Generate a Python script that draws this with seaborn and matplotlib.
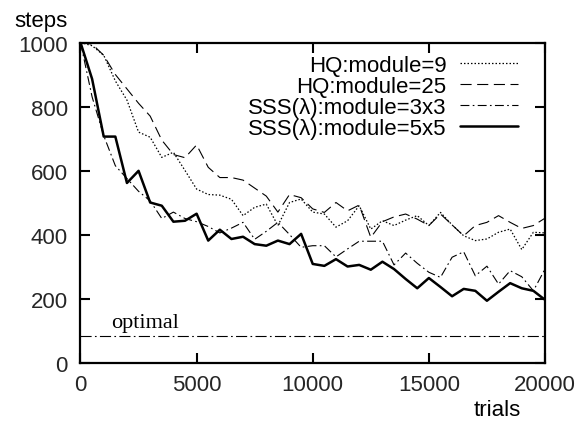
import numpy as np
import pandas as pd
import matplotlib
matplotlib.use("Agg")
import matplotlib.pyplot as plt
import seaborn as sns

# trials sampled every 500
trials = np.arange(0, 20001, 500)

hq_module9 = [1000, 990, 960, 880, 820, 720, 704, 641, 657, 600,
              542, 525, 523, 510, 459, 485, 495, 428, 500, 511,
              470, 464, 423, 443, 490, 417, 443, 428, 445, 459,
              428, 469, 430, 396, 381, 386, 407, 417, 353, 407, 405]
hq_module25 = [1000, 995, 960, 900, 855, 810, 770, 695, 650, 640,
               680, 610, 578, 578, 570, 545, 520, 470, 525, 515,
               480, 469, 500, 474, 492, 391, 440, 455, 464, 448,
               428, 464, 430, 396, 428, 438, 459, 438, 419, 428, 451]
sss_3x3 = [1000, 830, 709, 615, 575, 535, 505, 450, 470, 450,
           440, 425, 405, 420, 438, 385, 410, 438, 400, 360,
           365, 365, 330, 355, 379, 379, 379, 305, 342, 310,
           282, 266, 329, 346, 271, 301, 245, 287, 268, 224, 292]
sss_5x5 = [1000, 886, 706, 706, 561, 599, 500, 490, 440, 443,
           465, 381, 415, 386, 393, 370, 365, 381, 370, 402,
           308, 302, 323, 300, 305, 290, 315, 292, 261, 232,
           264, 236, 207, 230, 224, 193, 221, 248, 232, 224, 196]
optimal = 82

xticks = [0, 5000, 10000, 15000, 20000]
yticks = [0, 200, 400, 600, 800, 1000]
labels = ["HQ:module=9", "HQ:module=25",
          "SSS(\u03bb):module=3x3", "SSS(\u03bb):module=5x5"]

sns.set_style("ticks", rc={
    "axes.edgecolor": "black",
    "axes.axisbelow": False,
    "text.color": "black",
    "xtick.direction": "in",
    "ytick.direction": "in",
})
plt.rcParams['font.family'] = ['Liberation Sans', 'DejaVu Sans']

fig = plt.figure(figsize=(5.85, 4.27), dpi=100)
ax = fig.add_axes([0.1376, 0.1487, 0.7940, 0.7494])

styles = [
    dict(linestyle=(0, (1.2, 1.6)), linewidth=0.9),
    dict(linestyle=(0, (10, 5)), linewidth=0.8),
    dict(linestyle=(0, (8, 3, 1.5, 3)), linewidth=0.8),
    dict(linestyle="-", linewidth=1.8),
]
for y, lab, st in zip([hq_module9, hq_module25, sss_3x3, sss_5x5], labels, styles):
    df = pd.DataFrame({"trials": trials, "steps": y})
    sns.lineplot(data=df, x="trials", y="steps", ax=ax, color="black",
                 label=lab, **st)

ax.axhline(optimal, color="black", linewidth=0.8, linestyle=(0, (10, 3, 1.5, 3)))
ax.text(1300, optimal + 12, "optimal", family=["Liberation Serif", "DejaVu Serif"],
        fontsize=16, va="bottom", ha="left")

ax.set_xlim(0, 20000)
ax.set_ylim(0, 1000)
ax.set_xticks(xticks)
ax.set_yticks(yticks)
for sp in ax.spines.values():
    sp.set_linewidth(1.6)
ax.set_xlabel("")
ax.set_ylabel("")
fig.text(41 / 585, 1 - 21 / 427, "steps", fontsize=16, ha="center", va="center")
fig.text(497 / 585, 1 - 411 / 427, "trials", fontsize=16, ha="center", va="center")

ax.legend(loc="upper right", frameon=False, markerfirst=False,
          fontsize=16, handlelength=2.6, labelspacing=0.0,
          borderaxespad=0.0, handletextpad=0.6,
          bbox_to_anchor=(0.96, 0.99))

# inward ticks on all four sides
ax.tick_params(which="major", direction="in", length=7, width=1.5, color="#000000",
               labelsize=16, top=True, right=True, bottom=True, left=True)
ax.tick_params(axis="y", pad=9)
ax.tick_params(axis="x", pad=8)
ax.xaxis.set_zorder(3)
ax.yaxis.set_zorder(3)

fig.savefig("out.png", dpi=100)
